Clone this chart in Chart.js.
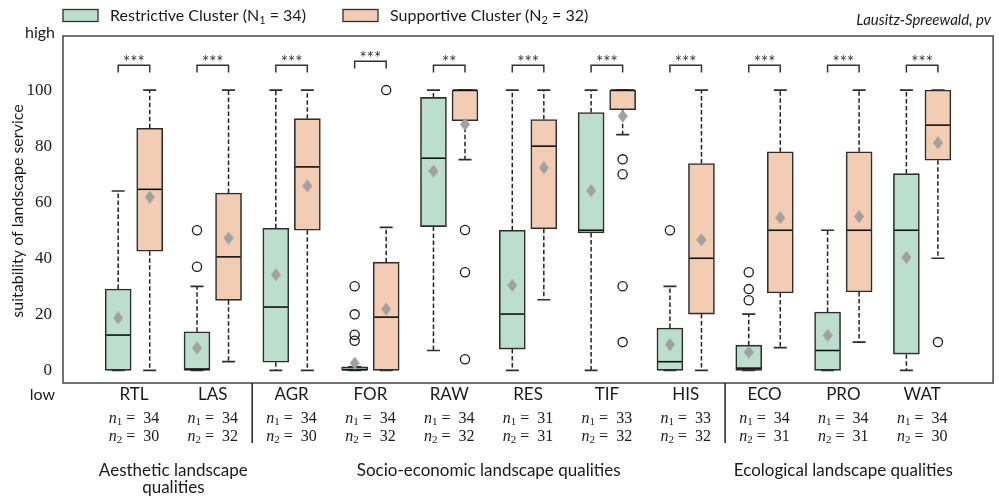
<!DOCTYPE html>
<html><head><meta charset="utf-8">
<script src="https://cdn.jsdelivr.net/npm/chart.js@4"></script>
<style>html,body{margin:0;padding:0;background:#fff;overflow:hidden}canvas{display:block}</style>
</head><body><canvas id="c" width="999" height="498"></canvas>
<script>
// ---------- data ----------
const categories = ['RTL','LAS','AGR','FOR','RAW','RES','TIF','HIS','ECO','PRO','WAT'];
const n1 = [34,34,34,34,34,31,33,33,34,34,34];
const n2 = [30,32,30,32,32,31,32,32,31,31,30];
// Restrictive cluster (N1 = 34)
const rWhiskLo = [0,0,0,0,7.1,0,0,0,0,0,0];
const rQ1      = [0,0,2.9,0,51.3,7.6,49,0,0,0,5.8];
const rMedian  = [12.6,0.5,22.6,0.3,75.7,20.1,50,3.1,0.8,7.1,50];
const rQ3      = [29,13.8,50.7,1.3,97.4,50,92,15.1,9,20.8,70.2];
const rWhiskHi = [64,30,100,1.3,100,100,100,30,20.1,50,100];
const rMean    = [18.7,8,34.1,2.6,71.1,30.3,64.1,9.2,6.5,12.5,40.3];
const rOutliers = [[],[37,50],[],[30,20,12.7,10.6],[],[],[],[50],[35,29,25],[],[]];
// Supportive cluster (N2 = 32)
const sWhiskLo = [0,3.1,0,0,75.2,25.2,84.1,0,8.1,10.1,40];
const sQ1      = [42.5,25,50,0,89.1,50.5,93,20.1,27.6,28,75];
const sMedian  = [64.6,40.5,72.6,19,100,80,100,40,50,50,87.5];
const sQ3      = [86.4,63.3,89.8,38.6,100,89.5,100,73.8,78,78,100];
const sWhiskHi = [100,100,100,51,100,100,100,100,100,100,100];
const sMean    = [61.8,47.2,65.8,21.9,87.8,72.3,90.7,46.6,54.5,54.9,81.2];
const sOutliers = [[],[],[],[100],[50.1,35,4],[],[75.3,70,30,10.1],[],[],[],[10.1]];
// significance
const sigLabels  = ['***','***','***','***','**','***','***','***','***','***','***'];
const sigHeights = [108.9,108.9,108.9,110.3,108.9,108.9,108.9,108.9,108.9,108.9,108.9];
const yTickValues = [0,20,40,60,80,100];
const groupLabels = [['Aesthetic landscape','qualities'],['Socio-economic landscape qualities'],['Ecological landscape qualities']];
const groupFrom = [0,2,8];
const groupTo   = [1,7,10];
const separatorsAt = [1.5,7.5];
const legendLabels = [['Restrictive Cluster (N','1',' = 34)'],['Supportive Cluster (N','2',' = 32)']];
const titleText = 'Lausitz-Spreewald, pv';

// ---------- styles ----------
const GREEN = '#bcdfcd', ORANGE = '#f3cdb3', EDGE = '#2e2e2e';
const SANS = 'Lato, "Open Sans", sans-serif';
const SERIF = '"Liberation Serif", serif';
const OFF = 0.2;

function diamondCanvas(w,h,color){
  const c=document.createElement('canvas'); c.width=w; c.height=h;
  const g=c.getContext('2d'); g.fillStyle=color; g.beginPath();
  g.moveTo(w/2,0); g.lineTo(w,h/2); g.lineTo(w/2,h); g.lineTo(0,h/2); g.closePath(); g.fill();
  return c;
}
const diamond = diamondCanvas(10,13,'#a0a0a0');

const clusters = {
  r:{lo:rWhiskLo,q1:rQ1,med:rMedian,q3:rQ3,hi:rWhiskHi,off:-OFF},
  s:{lo:sWhiskLo,q1:sQ1,med:sMedian,q3:sQ3,hi:sWhiskHi,off:OFF}
};

const boxDetail = {
  id:'boxDetail',
  afterDatasetDraw(chart,args){
    const ds = chart.data.datasets[args.index];
    if(!ds.cluster) return;
    const c = clusters[ds.cluster];
    const {ctx, scales:{x,y}} = chart;
    ctx.save();
    categories.forEach((_,i)=>{
      const cx = x.getPixelForValue(i + c.off);
      const half = 13, cap = 6.5;
      ctx.setLineDash([4.5,2.5]); ctx.lineWidth=1.5; ctx.strokeStyle='#222';
      ctx.beginPath();
      if(c.hi[i] > c.q3[i]){ ctx.moveTo(cx,y.getPixelForValue(c.q3[i])); ctx.lineTo(cx,y.getPixelForValue(c.hi[i])); }
      if(c.lo[i] < c.q1[i]){ ctx.moveTo(cx,y.getPixelForValue(c.q1[i])); ctx.lineTo(cx,y.getPixelForValue(c.lo[i])); }
      ctx.stroke();
      ctx.setLineDash([]); ctx.lineWidth=1.7; ctx.strokeStyle=EDGE;
      ctx.beginPath();
      const yh=y.getPixelForValue(c.hi[i]), yl=y.getPixelForValue(c.lo[i]);
      ctx.moveTo(cx-cap,yh); ctx.lineTo(cx+cap,yh);
      ctx.moveTo(cx-cap,yl); ctx.lineTo(cx+cap,yl);
      ctx.stroke();
      ctx.strokeStyle='#111'; ctx.lineWidth=1.6;
      const ym=y.getPixelForValue(c.med[i]);
      ctx.beginPath(); ctx.moveTo(cx-half+1,ym); ctx.lineTo(cx+half-1,ym); ctx.stroke();
    });
    ctx.restore();
  }
};

function richWidth(ctx, parts){
  let w=0; parts.forEach(p=>{ctx.font=p.font; w+=ctx.measureText(p.t).width;}); return w;
}
function drawRich(ctx, parts, x, y, align){
  const w = richWidth(ctx, parts);
  let cx = align==='center' ? x - w/2 : (align==='right' ? x - w : x);
  ctx.textAlign='left'; ctx.textBaseline='middle';
  parts.forEach(p=>{ctx.font=p.font; ctx.fillText(p.t, cx, y + (p.dy||0)); cx += ctx.measureText(p.t).width;});
}

const decor = {
  id:'decor',
  afterDraw(chart){
    const {ctx, chartArea:a, scales:{x,y}} = chart;
    ctx.save();
    ctx.strokeStyle='#444'; ctx.lineWidth=1.5;
    ctx.strokeRect(a.left,a.top,a.right-a.left,a.bottom-a.top);
    ctx.strokeStyle='#333'; ctx.lineWidth=1.5;
    categories.forEach((_,i)=>{
      const x1=x.getPixelForValue(i-OFF), x2=x.getPixelForValue(i+OFF);
      const yt=y.getPixelForValue(sigHeights[i]), yb=y.getPixelForValue(sigHeights[i]-2.6);
      ctx.beginPath(); ctx.moveTo(x1,yb); ctx.lineTo(x1,yt); ctx.lineTo(x2,yt); ctx.lineTo(x2,yb); ctx.stroke();
      ctx.font='17px '+SANS; ctx.textAlign='center'; ctx.textBaseline='alphabetic'; ctx.fillStyle='#333';
      ctx.fillText(sigLabels[i], (x1+x2)/2, yt+3);
    });
    ctx.fillStyle='#1a1a1a';
    ctx.font='16px '+SANS; ctx.textAlign='right'; ctx.textBaseline='middle';
    ctx.fillText('high', 55, 33);
    ctx.fillText('low', 55, 395);
    ctx.save(); ctx.translate(17.5,211); ctx.rotate(-Math.PI/2);
    ctx.font='16px '+SANS; ctx.textAlign='center'; ctx.textBaseline='middle';
    ctx.fillText('suitability of landscape service',0,0); ctx.restore();
    categories.forEach((name,i)=>{
      const cx=x.getPixelForValue(i);
      ctx.font='17px '+SANS; ctx.textAlign='center'; ctx.textBaseline='middle';
      ctx.fillText(name,cx,395);
      drawRich(ctx,[{t:'n',font:'italic 16px '+SERIF},{t:'1',font:'11px '+SERIF,dy:3},{t:' =  '+n1[i],font:'16px '+SERIF}],cx,419,'center');
      drawRich(ctx,[{t:'n',font:'italic 16px '+SERIF},{t:'2',font:'11px '+SERIF,dy:3},{t:' =  '+n2[i],font:'16px '+SERIF}],cx,437,'center');
    });
    ctx.strokeStyle='#222'; ctx.lineWidth=1.5;
    separatorsAt.forEach(v=>{const px=x.getPixelForValue(v); ctx.beginPath(); ctx.moveTo(px,a.bottom); ctx.lineTo(px,443); ctx.stroke();});
    groupLabels.forEach((lines,g)=>{
      const cx=(x.getPixelForValue(groupFrom[g])+x.getPixelForValue(groupTo[g]))/2;
      ctx.font='17px '+SANS; ctx.textAlign='center'; ctx.textBaseline='middle';
      lines.forEach((t,k)=>ctx.fillText(t,cx,471+k*17));
    });
    const legX=[63,343], legTextX=[110,390], cols=[GREEN,ORANGE];
    legendLabels.forEach((lab,k)=>{
      ctx.fillStyle=cols[k]; ctx.fillRect(legX[k],9.5,35,12);
      ctx.strokeStyle=EDGE; ctx.lineWidth=1.3; ctx.strokeRect(legX[k],9.5,35,12);
      ctx.fillStyle='#1a1a1a';
      drawRich(ctx,[{t:lab[0],font:'16px '+SANS},{t:lab[1],font:'11px '+SANS,dy:4},{t:lab[2],font:'16px '+SANS}],legTextX[k],16,'left');
    });
    ctx.font='italic 15px '+SANS; ctx.textAlign='right'; ctx.textBaseline='middle';
    ctx.fillText(titleText, 991, 20);
    ctx.restore();
  }
};

const boxDatasets = [
  {type:'bar', cluster:'r', label:'Restrictive', data:categories.map((_,i)=>({x:i-OFF,y:[rQ1[i],rQ3[i]]})), backgroundColor:GREEN},
  {type:'bar', cluster:'s', label:'Supportive', data:categories.map((_,i)=>({x:i+OFF,y:[sQ1[i],sQ3[i]]})), backgroundColor:ORANGE}
].map(d=>Object.assign(d,{borderColor:EDGE,borderWidth:1.6,borderSkipped:false,barThickness:26,grouped:false,order:3}));

const pointDatasets = [
  {type:'scatter', label:'mean R', data:categories.map((_,i)=>({x:i-OFF,y:rMean[i]})), pointStyle:diamond, order:0},
  {type:'scatter', label:'mean S', data:categories.map((_,i)=>({x:i+OFF,y:sMean[i]})), pointStyle:diamond, order:0},
  {type:'scatter', label:'out R', data:rOutliers.flatMap((arr,i)=>arr.map(v=>({x:i-OFF,y:v}))), pointStyle:'circle', pointRadius:4.6, backgroundColor:'rgba(0,0,0,0)', borderColor:'#1a1a1a', borderWidth:1.3, order:1},
  {type:'scatter', label:'out S', data:sOutliers.flatMap((arr,i)=>arr.map(v=>({x:i+OFF,y:v}))), pointStyle:'circle', pointRadius:4.6, backgroundColor:'rgba(0,0,0,0)', borderColor:'#1a1a1a', borderWidth:1.3, order:1}
];

new Chart(document.getElementById('c'),{
  type:'bar',
  data:{datasets:[...boxDatasets,...pointDatasets]},
  options:{
    responsive:false, animation:false, devicePixelRatio:1,
    layout:{padding:{left:0,right:4,top:36,bottom:115}},
    plugins:{legend:{display:false},tooltip:{enabled:false}},
    scales:{
      x:{type:'linear',min:-0.9,max:10.9,offset:false,display:false},
      y:{type:'linear',min:-4.5,max:119.3,
         grid:{display:false,drawTicks:false}, border:{display:false},
         afterBuildTicks:s=>{s.ticks=yTickValues.map(v=>({value:v}));},
         afterFit:s=>{s.width=63;},
         ticks:{padding:11,color:'#1a1a1a',font:{family:'"Liberation Serif", serif',size:17}}}
    }
  },
  plugins:[boxDetail,decor]
});
</script></body></html>
